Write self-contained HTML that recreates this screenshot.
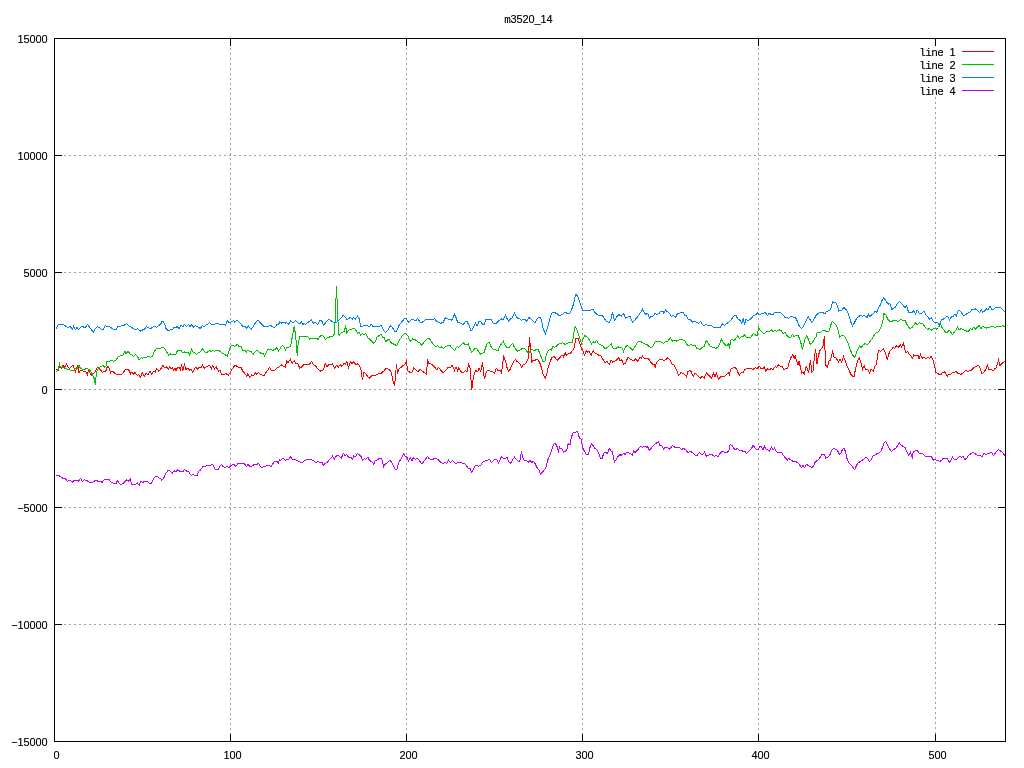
<!DOCTYPE html>
<html><head><meta charset="utf-8"><title>m3520_14</title>
<style>
html,body{margin:0;padding:0;background:#fff;overflow:hidden}
svg{display:block;position:absolute;left:0;top:0;will-change:transform}
text{font-size:11px;fill:#000;text-anchor:middle}
.m{font-family:"Liberation Mono",monospace}
.s{font-family:"Liberation Sans",sans-serif}
</style></head><body>
<svg width="1024" height="768" viewBox="0 0 1024 768">
<rect x="0" y="0" width="1024" height="768" fill="#fff"/>
<g shape-rendering="crispEdges" stroke="#a0a0a0" stroke-width="1" fill="none">
<line x1="64" y1="155.5" x2="998" y2="155.5" stroke-dasharray="2 3"/>
<line x1="64" y1="272.5" x2="998" y2="272.5" stroke-dasharray="2 3"/>
<line x1="64" y1="389.5" x2="998" y2="389.5" stroke-dasharray="2 3"/>
<line x1="64" y1="507.5" x2="998" y2="507.5" stroke-dasharray="2 3"/>
<line x1="64" y1="624.5" x2="998" y2="624.5" stroke-dasharray="2 3"/>
<line x1="230.5" y1="48" x2="230.5" y2="734" stroke-dasharray="2 3"/>
<line x1="406.5" y1="48" x2="406.5" y2="734" stroke-dasharray="2 3"/>
<line x1="582.5" y1="48" x2="582.5" y2="734" stroke-dasharray="2 3"/>
<line x1="758.5" y1="48" x2="758.5" y2="734" stroke-dasharray="2 3"/>
<line x1="935.5" y1="97" x2="935.5" y2="734" stroke-dasharray="2 3"/>
</g>
<g shape-rendering="crispEdges" fill="none" stroke-width="1" stroke-linejoin="miter">
<polyline stroke="#ff0000" points="56.1,369.4 57.4,370.0 58.6,370.6 59.2,366.2 60.5,366.9 61.8,368.1 63.0,365.6 64.9,367.5 66.5,364.4 68.0,366.9 69.2,368.5 71.1,366.9 73.0,365.2 74.2,368.1 75.5,371.9 77.0,367.5 78.0,365.2 79.0,372.5 80.2,370.6 81.8,370.0 83.6,371.5 85.5,371.2 87.4,374.4 88.6,370.6 90.5,373.8 91.8,375.6 93.2,373.8 94.9,372.5 96.1,370.0 97.4,367.5 99.2,368.8 100.5,370.0 102.4,372.5 104.2,371.5 105.8,371.2 107.0,367.5 108.0,366.2 109.5,369.4 110.5,373.1 111.8,371.0 113.6,371.9 115.5,373.8 117.4,375.0 119.2,374.4 121.8,374.4 123.6,371.9 125.5,369.4 128.0,369.1 129.2,370.6 130.5,373.8 132.0,372.2 133.6,374.4 135.1,372.5 137.4,375.6 138.6,374.4 140.5,377.5 142.4,372.5 144.2,376.2 146.1,373.1 148.0,375.0 149.9,371.0 151.8,374.4 153.6,371.2 155.2,372.2 156.8,368.5 158.6,371.2 160.5,369.4 163.0,365.6 164.9,368.1 166.5,366.9 168.2,369.4 169.5,366.9 171.1,368.8 172.4,367.5 173.6,370.0 174.9,368.1 176.0,371.2 177.2,368.1 179.1,366.9 180.4,369.4 181.6,365.6 182.9,370.6 184.5,364.4 186.0,369.4 187.9,368.1 189.8,370.6 191.0,368.8 192.9,372.5 194.8,368.1 196.0,366.9 197.5,369.4 199.1,367.5 201.0,368.1 202.5,365.2 204.5,368.1 206.0,366.9 207.9,366.2 209.5,365.2 211.6,368.8 212.5,365.6 214.5,368.8 216.2,366.9 218.5,371.2 220.0,370.0 221.6,374.4 224.1,374.4 226.0,373.8 228.5,375.0 230.4,372.5 232.2,368.8 234.8,365.6 237.2,366.2 239.1,368.1 241.0,367.5 242.9,371.2 244.5,373.1 246.6,376.2 247.9,373.8 249.8,377.2 251.6,375.0 253.5,375.6 255.4,372.5 256.6,374.4 258.5,372.5 260.4,374.4 262.2,375.0 264.1,375.6 266.0,372.5 267.9,370.0 269.5,367.5 271.0,370.0 272.9,370.0 274.8,370.6 276.6,368.1 278.5,367.5 281.6,364.8 283.5,366.2 285.4,367.5 286.6,361.2 287.9,362.5 290.4,359.4 292.2,363.1 294.1,360.6 296.0,363.8 297.5,363.1 299.8,368.1 301.6,366.9 303.5,364.8 304.0,364.4 306.5,364.4 309.0,365.0 311.5,361.5 313.4,364.8 315.2,365.6 317.1,368.1 319.0,369.8 320.9,371.2 323.4,370.0 325.2,363.8 326.8,366.9 329.0,364.4 330.9,365.0 332.5,363.8 334.6,368.1 336.5,365.2 338.4,366.9 340.2,364.8 341.8,366.2 344.0,363.5 345.2,364.4 346.8,361.5 348.4,367.5 350.5,362.2 352.1,363.8 353.6,361.5 355.9,365.0 357.8,363.8 359.6,365.6 360.9,369.4 362.4,380.0 364.0,372.5 365.2,373.1 367.1,375.6 369.2,378.5 371.5,376.0 374.0,375.6 376.5,375.0 378.4,373.8 380.5,373.8 382.5,371.9 384.0,371.0 385.9,368.5 389.0,369.4 390.9,371.2 392.8,380.0 394.6,386.2 395.5,375.0 396.5,364.4 397.5,373.8 399.0,368.8 400.9,367.5 402.8,365.6 404.6,364.4 406.2,361.5 407.8,370.6 410.2,372.5 412.1,371.9 413.8,367.8 415.9,370.0 418.0,371.5 420.2,369.4 422.1,371.2 424.2,372.5 426.2,374.0 427.8,360.6 429.0,363.5 432.0,364.4 433.9,366.2 435.5,368.1 437.0,370.0 438.5,367.5 440.1,369.4 441.8,371.2 443.5,372.8 445.1,371.2 446.8,369.4 448.2,367.2 450.1,368.1 452.0,365.2 453.5,367.5 454.5,370.6 456.0,366.9 457.6,370.6 458.9,367.5 460.8,371.2 462.0,372.5 463.9,372.2 465.5,370.6 467.0,371.9 468.5,364.4 470.1,368.1 471.0,380.0 471.8,390.2 473.0,380.0 474.5,373.1 475.8,370.6 477.6,371.9 479.2,368.1 480.8,371.5 482.6,362.5 483.5,372.5 484.5,379.0 485.8,373.8 487.6,370.2 489.5,370.6 491.0,372.2 492.6,371.2 494.2,373.5 496.4,368.5 498.0,370.6 500.1,370.0 501.4,372.5 502.6,365.0 503.5,355.6 504.5,358.8 505.8,362.5 507.0,367.5 508.5,371.5 510.1,369.4 512.0,365.0 513.9,361.2 515.5,359.4 517.0,361.5 518.9,362.5 520.1,364.4 521.8,367.2 523.2,364.4 525.1,364.0 526.8,361.9 528.2,358.1 528.9,348.8 529.5,337.2 530.1,344.4 531.0,353.1 531.6,361.9 533.0,360.6 535.1,360.2 537.0,359.0 538.9,361.2 540.1,363.8 541.8,368.8 543.2,374.4 545.1,378.5 546.8,373.8 548.2,367.5 550.1,361.5 552.0,357.5 554.2,356.2 555.8,358.8 557.6,360.2 558.9,358.8 560.0,357.5 561.9,355.0 563.5,356.9 565.2,352.5 566.5,355.6 568.5,353.8 570.6,353.1 572.5,350.6 574.4,347.5 575.6,338.8 578.1,338.5 579.8,343.8 581.5,348.8 583.1,351.2 584.4,355.2 586.2,350.6 587.8,352.5 589.0,351.0 591.2,355.2 593.1,350.6 595.0,353.1 596.9,353.8 598.8,355.2 600.6,355.2 602.5,358.8 605.0,362.5 606.9,361.5 609.4,364.4 611.2,360.0 612.8,362.2 614.4,361.2 616.5,360.0 618.5,357.5 620.0,360.6 621.5,359.4 623.8,364.4 625.6,363.1 628.1,356.9 630.0,359.0 632.2,360.0 634.0,361.2 635.6,358.5 637.5,361.5 640.0,356.9 641.5,358.5 642.5,356.2 645.0,358.8 646.9,358.1 649.0,359.4 650.6,361.9 652.5,364.0 654.4,365.0 655.6,368.1 656.2,362.5 658.8,360.2 661.2,359.4 663.1,360.2 665.6,360.0 667.8,357.5 670.0,360.0 671.9,364.0 674.0,365.0 676.2,369.4 678.8,375.6 681.0,372.5 683.1,373.5 685.0,375.0 686.5,376.9 687.5,372.5 688.0,371.2 690.5,370.6 691.8,373.1 693.2,376.9 694.9,373.1 696.8,374.8 698.6,376.5 700.5,378.1 702.4,376.2 704.2,378.1 706.5,372.5 708.0,374.4 709.5,376.2 711.5,378.1 713.6,373.1 714.9,376.9 716.5,373.5 718.6,379.4 720.5,376.9 722.4,376.2 724.9,376.0 726.8,374.0 728.6,372.5 729.2,375.0 731.1,369.0 733.0,367.8 734.9,367.5 736.8,369.4 739.2,375.6 741.1,372.5 743.0,372.8 744.9,369.4 747.4,368.5 749.2,369.0 751.1,368.5 753.0,369.4 755.5,367.5 757.0,368.5 759.2,366.2 761.1,368.5 763.0,369.0 764.2,366.9 765.8,371.2 767.4,369.0 769.2,370.0 771.1,368.5 773.0,370.0 774.9,366.9 776.8,367.2 778.6,364.8 780.5,366.5 782.4,366.9 784.0,369.4 786.1,368.5 787.8,368.1 789.2,362.5 791.1,357.2 792.8,354.4 794.2,358.1 795.2,356.2 796.8,361.2 798.0,365.0 799.0,361.5 800.5,367.5 801.8,373.1 803.0,372.2 804.2,374.4 806.1,366.2 807.4,368.8 808.6,372.5 810.5,360.0 811.8,372.2 813.0,371.2 814.2,358.8 815.5,349.4 816.0,353.1 817.0,364.4 818.5,355.0 820.4,349.4 822.0,347.8 823.2,345.6 824.5,335.6 825.0,349.8 826.0,365.6 827.5,367.2 828.8,361.2 830.4,360.0 831.6,355.6 832.5,351.9 834.1,356.9 836.0,358.1 837.5,360.0 838.5,361.9 840.0,359.4 841.6,362.2 843.5,356.5 845.4,361.2 847.2,366.2 849.1,370.6 851.0,374.4 852.5,376.2 854.1,376.2 855.8,367.5 857.2,361.9 859.1,357.5 860.8,362.5 862.5,369.4 864.1,365.6 866.0,370.0 867.5,369.4 869.5,373.1 871.0,369.0 873.2,371.2 874.8,366.5 876.6,363.8 877.9,353.1 879.1,350.0 880.4,351.9 882.2,350.0 883.5,348.8 885.4,352.5 887.2,359.4 888.5,355.0 889.8,351.2 891.0,350.0 892.9,347.8 894.8,348.1 896.6,345.6 898.5,346.9 900.4,345.0 901.6,346.9 903.5,343.1 905.0,350.0 906.0,352.5 907.5,351.5 909.1,353.8 910.8,355.6 912.2,358.8 913.8,355.0 916.0,355.2 917.9,355.0 919.1,358.8 920.4,354.4 922.2,358.1 924.1,357.5 926.0,358.5 927.9,357.5 929.5,358.5 931.2,356.2 932.9,360.0 934.5,365.6 936.0,372.5 937.9,373.5 939.8,374.8 941.6,374.0 942.9,371.9 944.0,372.5 944.8,371.9 947.2,376.2 949.1,374.0 950.4,374.8 952.2,372.5 954.1,372.2 956.0,371.5 957.9,373.5 961.0,374.4 963.5,372.5 966.0,369.8 967.9,371.9 969.8,370.0 971.6,370.0 973.5,367.8 976.0,366.5 978.5,365.2 980.0,368.1 982.2,374.0 984.1,371.9 986.0,369.0 987.5,365.0 989.1,370.0 991.0,368.8 993.2,371.0 994.8,368.8 996.2,368.1 997.5,363.8 998.5,360.0 1000.0,365.6 1001.6,363.8 1003.5,362.2 1004.8,361.2"/>
<polyline stroke="#00c000" points="56.1,371.5 58.0,370.0 59.0,366.2 59.5,362.2 60.1,366.2 61.1,367.2 63.6,367.9 65.5,368.5 68.0,369.4 71.1,370.2 73.6,370.2 75.5,368.5 77.4,368.1 79.2,365.2 80.2,368.1 81.8,368.8 83.6,369.8 85.5,369.0 87.0,368.5 89.2,369.4 91.1,371.9 92.8,375.0 94.5,380.0 95.5,384.8 96.2,373.8 97.4,370.0 98.6,367.5 100.5,366.9 103.0,365.6 104.9,367.5 106.1,365.6 106.8,361.2 108.0,361.0 109.9,361.2 111.8,360.4 113.6,361.2 115.5,360.6 117.4,358.1 118.6,356.5 120.5,355.6 122.4,355.6 123.6,353.8 124.9,351.2 126.1,353.8 128.0,351.2 129.9,353.8 131.8,355.0 133.6,356.2 135.5,354.4 137.4,356.2 139.2,360.0 141.1,357.8 143.0,358.1 144.9,357.5 146.8,357.2 148.6,356.2 150.5,357.2 152.4,356.2 154.2,351.9 156.1,348.8 158.0,348.1 159.9,348.8 161.8,347.2 163.6,347.2 165.5,349.8 167.4,353.1 168.6,355.0 170.5,354.0 173.0,354.4 176.0,354.4 177.2,351.0 179.1,350.6 181.0,350.6 182.9,353.1 184.8,351.9 186.6,352.5 188.5,352.5 189.8,355.0 191.6,349.4 192.9,351.9 194.8,352.5 196.6,354.4 198.5,352.5 200.4,351.9 202.2,348.5 204.1,351.2 206.0,352.5 207.9,351.9 209.5,350.6 211.0,351.2 212.9,350.6 214.8,351.2 217.9,350.2 219.8,351.2 221.6,352.5 223.5,353.8 225.4,355.0 227.2,356.2 229.1,350.6 231.0,346.0 232.9,345.6 234.8,346.2 237.2,344.4 239.1,346.5 241.0,346.5 242.9,350.6 244.8,350.0 246.2,352.5 247.9,350.0 249.8,351.9 251.0,351.5 253.2,354.4 255.4,351.2 257.2,350.2 259.1,351.9 261.0,353.5 262.9,353.1 264.5,356.2 266.0,353.1 267.9,349.4 269.8,349.4 271.6,350.0 273.5,350.0 275.4,349.4 276.6,347.5 278.5,351.2 280.4,348.1 282.2,345.6 283.5,346.2 285.4,350.0 287.2,347.2 290.4,346.9 292.2,337.5 294.1,326.2 295.4,333.8 296.4,343.8 297.2,355.6 298.2,342.5 299.8,336.9 301.6,336.2 304.0,336.2 305.9,336.9 307.8,336.5 309.6,339.0 311.5,338.5 314.0,338.5 316.5,338.5 318.4,339.4 320.2,336.2 322.1,335.2 324.0,337.2 325.5,339.4 327.1,338.1 329.0,337.2 330.9,336.5 332.8,336.9 333.5,335.2 334.5,333.8 336.5,286.5 338.5,333.8 339.2,335.2 340.9,333.1 342.8,332.2 344.2,331.2 345.5,325.6 346.8,333.1 348.4,330.6 350.2,329.4 352.8,328.8 354.6,328.5 356.2,330.6 357.8,333.1 359.0,332.2 360.5,335.0 362.5,333.8 364.0,334.4 365.9,333.5 367.8,338.1 369.6,339.0 371.5,341.2 373.8,343.5 375.5,341.0 377.1,336.9 379.0,335.6 380.9,334.4 382.5,337.2 384.0,337.5 385.9,341.9 387.8,339.8 389.2,339.4 390.9,342.5 392.8,343.8 394.6,344.4 396.5,345.6 398.4,342.5 400.2,338.8 402.1,336.2 404.0,333.8 405.9,333.8 407.8,335.6 409.6,340.2 410.9,341.2 412.5,339.0 414.6,339.4 416.5,340.6 418.4,342.5 420.0,343.1 421.5,345.2 423.4,343.1 425.2,340.6 427.8,338.5 429.6,338.8 432.0,342.5 433.9,345.0 435.8,346.9 437.6,345.6 439.5,347.5 441.4,346.9 443.5,348.5 445.8,346.5 448.2,345.6 450.1,345.6 452.0,348.1 454.5,350.6 457.0,346.9 458.9,347.2 461.0,345.0 463.2,342.5 465.1,344.4 466.8,345.0 468.2,343.5 469.5,347.5 471.8,352.5 473.9,349.4 475.8,348.1 477.2,349.4 478.9,351.9 480.8,354.4 482.6,353.1 484.2,352.2 485.8,346.9 487.6,343.1 489.2,342.5 490.8,346.2 492.6,348.8 494.5,349.4 496.4,350.0 498.2,350.2 500.1,345.6 502.0,343.1 503.5,341.2 505.1,345.6 507.0,347.5 508.9,348.1 510.8,345.0 512.6,343.5 514.2,346.9 516.0,349.4 517.6,351.2 519.5,350.2 521.4,349.0 523.2,348.5 525.1,348.8 526.8,351.2 528.2,352.5 529.8,351.9 531.4,349.8 533.2,350.0 534.8,350.6 536.4,349.4 538.2,349.8 539.8,353.1 541.4,357.5 543.2,361.9 544.8,361.9 546.4,353.8 548.2,350.6 550.1,349.4 551.4,350.0 553.0,346.2 554.5,347.5 556.4,346.0 558.2,344.4 560.0,343.5 562.5,342.8 565.0,344.4 567.5,343.1 570.0,342.5 572.5,342.2 574.0,332.5 575.2,326.2 576.9,330.0 578.8,335.0 580.2,340.0 581.5,343.8 583.1,338.8 584.8,335.6 586.5,336.5 588.1,338.1 590.0,341.2 591.5,344.0 593.1,341.9 595.0,342.5 596.5,340.6 598.8,343.8 601.2,345.0 603.1,346.2 605.2,349.0 607.2,347.5 609.4,345.6 611.2,343.8 613.1,348.1 615.6,348.5 618.1,346.9 620.0,347.5 621.9,347.5 623.5,351.5 625.0,348.1 626.9,345.2 628.8,346.9 630.6,348.1 632.5,350.2 634.4,347.5 636.5,343.8 638.8,341.5 641.0,341.5 643.1,343.1 645.0,344.0 646.9,344.4 648.8,346.2 651.2,347.5 653.1,346.2 655.2,341.9 657.5,341.2 660.0,341.5 661.9,342.2 663.5,343.5 665.6,341.5 668.1,341.0 670.2,337.8 672.5,341.2 674.0,339.8 676.2,341.2 678.8,340.0 681.2,339.4 683.1,340.2 685.0,341.0 686.9,344.4 688.0,346.2 689.9,345.0 691.8,344.8 693.2,346.0 694.9,345.2 696.8,348.1 698.6,348.8 700.2,349.4 702.0,347.2 704.2,346.9 705.5,342.5 706.8,340.2 708.2,343.8 710.2,346.0 712.4,347.2 714.2,347.5 716.1,348.5 718.0,346.9 719.9,343.1 721.5,339.4 723.0,341.9 724.9,344.8 726.8,345.6 728.2,344.0 729.5,347.5 730.8,340.0 732.8,339.8 734.2,340.6 736.1,338.1 737.8,335.6 739.2,338.5 741.1,336.9 743.0,336.5 744.9,334.4 746.1,337.2 748.0,337.5 750.5,337.5 752.4,335.0 753.6,333.5 755.5,335.0 757.4,335.0 758.6,327.5 759.9,329.8 761.8,331.9 763.6,333.8 765.5,332.5 767.4,331.2 769.2,331.9 771.1,329.8 773.0,331.5 774.9,330.6 776.8,331.2 779.0,329.8 781.1,330.6 783.0,333.8 784.9,332.5 786.8,335.2 788.6,337.2 790.5,337.5 792.4,334.4 794.2,336.9 796.1,335.2 798.0,335.6 799.9,339.4 801.1,343.8 802.4,349.4 803.6,345.0 804.9,339.4 806.5,335.6 808.2,338.8 810.2,344.4 811.8,343.1 813.6,340.6 814.9,338.1 816.0,336.9 817.2,332.5 819.1,333.1 821.0,331.9 823.5,330.2 826.0,331.2 829.1,331.0 830.8,325.0 832.2,321.5 834.1,323.1 836.0,325.0 837.5,327.5 838.5,332.5 839.8,337.2 841.6,335.2 843.5,335.6 845.4,337.5 847.2,341.2 848.8,345.0 850.4,350.0 852.2,354.4 854.8,357.5 856.6,352.5 858.5,347.5 859.8,345.6 861.0,348.1 862.9,345.0 865.0,343.8 867.9,344.4 869.8,341.9 871.6,339.4 873.5,336.2 875.8,333.1 877.9,331.9 879.8,330.0 881.2,326.2 882.9,321.2 883.8,313.8 885.8,314.4 887.5,318.8 889.8,321.2 892.2,321.2 894.1,320.0 896.6,320.6 898.2,321.9 900.0,320.0 901.6,319.4 903.2,321.0 905.0,320.2 906.6,323.8 908.5,326.9 910.0,328.5 912.0,327.5 913.5,325.6 915.4,322.8 917.0,325.0 919.1,322.8 921.0,323.5 922.9,323.5 924.5,326.5 926.2,328.5 927.9,329.4 929.5,328.5 931.6,330.2 933.5,328.8 935.4,328.1 936.6,329.0 938.5,327.5 940.4,324.0 942.0,327.5 944.0,330.2 945.4,332.2 947.5,332.2 949.1,330.2 951.0,332.5 952.5,334.4 954.1,332.5 956.0,329.8 957.5,326.9 959.1,330.0 961.0,328.5 962.9,329.8 964.8,330.2 966.6,331.0 968.5,331.0 970.4,328.8 972.2,329.4 974.1,326.9 975.4,329.0 977.2,327.5 979.1,325.6 981.0,328.8 982.5,326.2 984.8,327.2 986.6,328.1 988.5,327.2 991.0,326.9 992.9,326.5 994.8,327.5 996.6,326.9 999.1,326.0 1001.0,326.2 1002.9,325.6 1004.8,326.9"/>
<polyline stroke="#0080ff" points="56.1,328.5 58.0,324.8 59.9,325.0 61.1,324.1 63.0,324.1 64.9,325.6 66.8,326.9 68.6,327.2 70.2,326.2 72.4,329.4 73.6,326.5 75.5,329.4 77.0,327.5 78.6,329.4 80.8,327.2 82.4,326.2 84.2,327.5 85.5,327.2 87.4,324.4 89.2,326.9 91.1,329.4 93.2,332.2 95.2,328.5 97.4,326.9 99.2,327.5 101.1,329.0 103.0,329.4 105.2,325.6 106.8,326.2 109.2,326.2 111.1,327.8 113.2,329.0 116.1,329.4 117.8,326.5 119.9,326.2 122.4,325.6 124.5,325.0 126.5,323.4 128.6,325.9 130.8,326.6 133.0,328.5 134.9,329.6 138.0,328.8 140.2,331.2 142.4,330.0 144.5,329.4 146.5,326.5 148.6,327.8 150.8,328.5 152.8,327.2 154.9,326.5 156.8,327.2 159.0,325.4 160.5,324.4 161.8,321.9 163.6,321.5 164.9,325.0 166.1,328.8 167.8,330.4 169.9,330.0 172.4,329.4 174.2,327.5 176.0,328.1 177.2,326.2 179.1,329.0 181.0,325.0 182.9,326.5 184.5,324.4 186.6,326.5 188.5,324.4 190.0,326.9 191.6,324.8 193.5,327.2 195.4,325.6 197.2,326.5 200.4,328.5 202.2,325.6 203.8,326.9 206.0,324.8 207.9,324.4 209.5,322.5 212.2,325.0 214.8,324.0 217.9,323.1 219.8,324.4 222.2,325.0 224.1,324.4 225.4,325.0 227.5,320.6 229.1,322.5 231.0,321.9 233.5,320.6 234.8,322.5 237.2,320.0 239.1,321.9 241.0,323.8 242.9,326.9 244.8,326.0 246.6,328.1 248.5,326.2 251.2,329.4 253.5,326.2 256.0,321.9 258.5,320.2 260.4,323.1 262.2,324.4 264.1,326.9 266.0,326.0 268.5,326.2 271.0,325.6 273.5,327.5 275.4,326.9 277.0,324.4 278.5,324.4 279.8,321.9 281.6,323.1 283.5,322.5 285.4,323.1 286.6,322.5 288.5,324.4 290.8,320.6 292.9,323.1 295.4,320.6 297.9,323.1 299.8,323.8 301.2,321.9 302.9,324.4 304.0,323.8 305.9,324.4 307.8,322.5 309.6,321.2 311.5,320.0 313.4,323.1 315.2,322.5 317.8,324.4 319.6,320.6 321.5,320.2 323.4,325.0 325.2,323.1 327.1,320.6 329.0,319.4 330.9,320.6 333.4,322.5 336.5,322.5 338.4,320.6 340.9,318.1 343.4,315.2 345.2,316.9 346.8,319.4 348.4,318.8 350.2,317.5 352.1,319.4 353.4,317.5 355.2,319.4 357.5,316.2 359.0,318.5 360.9,326.2 362.8,326.2 365.2,325.0 367.1,325.6 369.0,326.9 371.2,324.4 372.8,326.2 375.2,326.5 377.1,326.9 379.0,326.5 381.5,325.6 383.4,330.0 385.5,332.5 387.8,330.0 390.5,325.6 392.8,328.1 395.0,331.5 396.5,331.2 399.0,325.6 400.9,323.1 402.8,320.6 404.6,318.5 406.5,319.0 408.4,322.2 410.2,320.6 412.1,319.4 414.0,320.0 415.9,320.6 417.5,318.5 419.0,320.6 420.9,322.8 422.8,321.9 425.9,319.4 428.4,319.4 430.2,319.8 432.0,320.0 434.5,318.5 436.4,321.2 438.2,321.9 440.5,323.5 443.2,322.2 445.5,317.5 447.6,319.0 450.1,319.4 452.0,320.2 454.5,314.4 456.0,317.5 457.6,322.2 459.5,322.8 461.4,323.8 463.2,325.0 465.1,321.5 467.0,321.5 468.9,325.0 470.8,330.2 472.2,330.0 473.9,326.0 475.5,323.1 477.0,326.2 478.9,321.5 480.8,321.9 482.6,324.4 484.2,324.4 485.8,319.8 487.6,319.4 491.4,319.4 493.2,323.1 495.8,323.5 497.6,321.9 499.5,320.2 501.4,319.0 503.2,319.4 505.5,315.2 507.0,318.5 508.5,321.2 510.1,319.4 512.0,317.8 514.5,313.1 516.0,316.0 517.6,318.5 519.5,318.8 521.4,320.2 523.2,319.4 524.8,319.4 526.8,321.2 528.9,317.5 530.8,318.8 533.0,321.2 534.8,322.8 536.4,320.0 538.2,317.8 540.1,317.5 541.4,320.0 543.2,328.8 545.5,333.5 547.0,329.4 548.9,322.5 550.5,315.6 552.0,313.1 553.9,312.2 555.8,313.1 557.6,314.0 558.9,316.0 560.0,315.6 562.5,314.4 565.0,312.2 567.5,313.5 570.0,313.1 571.9,308.8 573.8,303.1 575.6,294.4 577.5,295.6 579.4,301.2 581.2,306.2 582.5,310.6 584.4,310.2 587.5,310.2 590.6,310.2 593.1,309.4 595.0,312.5 596.9,314.4 599.4,315.6 601.9,315.6 603.8,317.5 605.6,320.6 607.5,321.9 609.4,322.5 611.0,318.8 612.5,312.2 614.4,320.6 616.2,317.5 618.8,314.4 621.2,316.2 623.5,313.5 625.6,318.1 628.1,316.9 630.0,316.2 632.5,322.2 635.0,320.0 636.9,317.5 638.8,315.0 640.6,312.5 642.5,309.4 644.4,313.1 646.2,314.4 647.8,313.1 649.4,318.1 651.2,316.5 653.1,316.0 655.0,313.5 656.9,314.4 658.8,313.8 660.6,311.5 663.1,311.5 663.8,313.1 665.6,310.2 667.5,311.9 669.4,313.1 671.2,316.2 673.1,315.6 675.6,317.2 677.5,313.5 680.0,313.1 683.1,312.5 685.0,316.2 686.2,315.6 688.0,319.0 690.5,320.0 692.8,322.2 694.9,321.2 696.8,322.8 698.6,323.1 700.5,321.5 702.0,324.0 704.0,325.6 706.1,324.4 708.0,325.6 710.5,325.2 712.4,326.2 714.0,328.1 715.5,327.2 718.0,327.2 720.2,327.2 722.4,324.0 724.5,325.2 726.8,323.5 728.6,322.2 731.1,319.8 733.0,317.2 734.5,315.2 736.1,315.6 737.8,319.0 739.2,319.8 741.1,321.9 742.0,323.5 743.2,318.1 744.5,324.4 746.1,318.8 748.0,321.2 749.9,319.4 751.8,317.8 753.6,315.6 756.1,314.4 757.8,312.5 759.2,315.0 761.8,313.5 763.6,313.1 765.5,312.8 767.4,315.6 769.2,313.1 771.1,314.4 773.0,315.0 774.5,312.2 776.8,312.5 780.5,312.5 782.4,314.4 784.9,317.2 786.8,317.8 788.6,318.1 790.5,316.5 793.0,316.9 795.5,317.5 797.4,321.2 799.2,326.0 801.8,328.5 803.6,326.2 806.1,320.6 808.2,316.5 809.9,319.4 811.8,322.2 813.6,320.0 815.5,316.5 816.0,315.6 818.5,313.1 821.0,312.5 822.9,312.5 824.8,314.0 826.6,311.5 828.5,310.6 830.8,309.4 832.5,301.5 834.1,302.5 836.0,303.1 837.5,306.2 838.8,311.2 840.4,310.2 842.0,310.0 843.8,307.2 845.4,308.8 847.2,311.2 849.1,316.2 851.0,322.5 852.5,326.2 854.1,323.5 856.0,319.4 857.9,316.9 860.4,315.6 862.5,316.2 864.8,315.6 867.0,317.5 868.5,314.4 869.8,316.9 871.6,315.0 873.5,313.5 875.0,311.5 876.6,312.5 878.2,308.8 880.0,305.6 881.6,301.0 883.5,298.1 885.4,300.0 887.0,302.5 888.2,304.4 889.8,303.1 891.6,309.4 893.5,308.5 895.0,307.5 897.0,304.0 899.5,301.5 901.6,303.5 903.5,305.6 905.0,308.1 906.6,305.6 908.5,312.2 910.4,312.5 912.0,313.1 913.8,310.2 915.4,314.0 917.2,310.0 919.1,313.1 921.6,313.1 924.1,311.5 926.0,315.0 927.9,316.9 929.8,319.4 931.2,317.8 933.5,321.9 935.8,322.8 937.2,322.2 939.1,324.8 941.6,319.8 942.9,319.4 944.0,318.8 944.8,318.1 947.5,316.2 949.5,320.0 951.0,317.2 952.9,316.5 954.8,314.4 956.2,316.2 957.9,311.2 959.5,310.2 961.2,312.5 963.5,315.6 965.4,314.8 967.9,313.1 970.0,312.2 972.2,309.0 974.1,309.8 975.8,308.8 977.9,311.0 979.8,312.5 981.2,309.8 982.9,312.2 985.0,310.6 986.6,308.8 988.5,309.4 989.8,306.2 991.6,309.4 993.5,309.4 996.0,307.5 998.5,307.2 1000.4,307.5 1002.2,309.4 1004.8,311.5"/>
<polyline stroke="#c000ff" points="56.1,475.2 58.6,475.6 61.1,476.9 63.0,478.5 65.5,478.8 67.4,481.5 69.9,480.2 72.4,482.2 73.6,480.6 76.1,480.6 78.6,481.2 80.5,478.5 82.4,481.5 84.2,479.8 86.8,480.6 89.2,482.2 93.0,482.2 95.5,480.2 98.0,481.2 100.5,481.2 102.0,482.5 104.0,479.8 106.8,479.4 109.2,479.8 110.5,481.9 113.0,483.1 116.1,483.5 117.4,480.6 119.2,483.1 121.1,484.8 123.6,483.1 126.5,479.8 128.6,481.2 130.2,478.5 131.5,484.0 133.6,484.4 135.5,484.4 137.4,483.1 139.2,485.2 140.8,481.5 143.0,482.2 144.9,481.5 147.4,481.5 149.2,483.5 151.1,483.5 153.0,480.0 154.9,476.9 156.8,476.2 158.6,477.8 160.5,478.5 161.8,480.2 163.6,478.5 165.5,473.8 167.4,471.2 168.6,470.2 170.5,471.5 172.4,473.1 174.2,470.6 176.0,472.2 177.5,469.8 179.8,471.2 182.9,471.5 184.5,469.4 186.6,471.2 188.5,471.5 190.0,473.8 191.6,475.6 192.9,474.4 194.8,475.6 197.2,475.6 198.5,471.5 200.4,470.0 202.9,466.5 205.4,466.2 207.2,465.2 210.4,465.2 212.5,464.4 214.1,467.5 215.8,469.8 218.5,469.4 219.8,466.5 221.2,464.4 222.9,466.2 224.8,467.8 227.0,466.5 228.8,467.5 231.0,465.6 233.8,464.0 235.8,466.2 238.5,463.1 241.0,464.0 244.1,463.1 246.6,466.5 248.2,464.4 250.0,466.5 252.0,466.2 254.5,464.4 256.6,464.4 258.5,463.5 260.0,466.0 262.0,467.8 264.1,466.5 267.2,465.6 269.5,465.6 271.2,466.5 272.9,463.8 274.8,461.2 277.0,461.5 278.5,463.1 279.5,459.8 281.0,460.2 283.2,458.1 285.4,460.6 287.2,459.4 289.1,459.0 290.8,456.5 292.2,459.4 295.4,459.8 297.9,461.0 301.0,462.5 302.9,462.2 304.0,461.2 306.5,459.8 309.0,459.4 311.5,459.8 314.0,461.2 315.9,462.8 317.8,461.2 319.6,462.5 322.1,462.5 323.4,465.2 325.5,463.1 327.5,462.2 329.6,459.4 332.5,456.2 334.2,459.4 336.2,456.2 338.0,455.2 339.6,456.5 341.2,458.1 343.4,453.5 345.0,455.6 346.5,454.4 348.4,457.2 350.9,457.5 352.5,459.4 353.8,455.6 355.2,456.9 357.5,453.5 359.6,455.2 360.9,456.2 362.5,460.2 364.6,458.5 365.9,459.4 367.8,457.2 369.2,459.8 371.2,461.5 372.5,462.5 373.8,464.4 375.5,460.2 377.1,460.0 379.0,458.5 380.9,458.5 382.5,460.6 383.4,467.2 385.0,464.4 387.1,463.1 389.6,460.2 391.5,461.9 393.4,466.0 395.2,469.4 396.8,469.4 398.4,463.1 400.0,460.6 401.8,457.5 403.8,453.5 405.2,456.2 406.8,456.9 408.4,461.2 410.2,457.2 412.1,461.0 413.4,457.5 415.2,459.4 417.1,458.1 419.0,459.8 420.9,463.1 422.5,463.5 424.2,460.6 426.2,458.5 427.5,456.5 429.0,458.5 432.0,459.8 434.5,458.5 436.4,458.5 438.2,459.8 440.5,461.9 442.6,463.8 444.5,462.5 446.8,463.5 448.5,460.2 450.5,462.5 452.6,460.2 454.5,462.5 456.0,463.8 458.2,462.5 460.8,462.5 462.6,463.5 464.5,463.5 466.4,465.6 468.2,468.5 470.1,468.8 471.8,472.5 473.2,469.4 475.1,465.6 477.0,465.2 478.5,466.5 480.8,465.2 482.6,462.2 484.5,461.2 486.4,460.6 488.2,459.8 489.8,459.8 491.4,462.8 493.2,460.6 495.1,459.4 496.8,459.8 498.5,462.8 500.1,460.0 501.4,456.5 503.2,458.1 505.1,458.5 507.0,457.2 508.5,461.2 510.5,463.5 512.6,459.8 514.5,457.2 516.4,459.4 518.2,461.5 519.8,461.2 521.4,451.2 522.6,457.5 524.2,460.2 526.4,460.6 528.5,462.5 529.8,460.2 531.8,462.5 533.2,461.2 534.5,462.5 536.0,465.6 537.6,468.8 538.9,469.4 540.5,474.4 542.6,471.9 544.2,469.8 545.8,468.1 547.2,461.9 548.9,456.9 550.8,453.1 552.2,448.5 553.5,444.4 554.8,443.1 556.4,444.8 557.6,448.1 558.5,451.2 559.5,447.2 560.0,448.1 561.9,448.5 563.5,452.2 565.6,451.2 566.9,449.4 568.1,443.8 570.0,445.0 571.2,438.1 572.8,433.1 575.0,432.2 577.2,431.5 578.5,434.4 579.4,438.1 581.2,439.0 582.5,447.5 584.4,451.2 586.2,454.4 588.5,454.4 590.0,447.5 591.5,443.5 593.1,445.6 595.0,448.8 596.9,449.4 598.8,453.8 600.6,458.1 602.2,458.1 603.8,453.1 605.6,452.2 607.5,453.8 609.4,448.5 611.2,451.0 612.5,451.9 614.4,462.2 616.2,459.4 618.1,456.5 619.8,454.8 621.2,455.2 623.8,453.5 625.2,454.4 626.9,451.9 628.5,452.8 630.6,453.8 632.2,455.2 633.8,450.6 635.0,452.5 636.9,450.6 638.8,448.5 640.6,446.5 642.5,447.2 644.4,446.2 646.0,447.2 647.5,446.5 649.4,450.2 651.2,448.1 653.1,446.0 655.2,443.8 656.9,442.8 658.5,441.5 660.0,445.6 661.9,446.0 663.5,449.0 665.6,447.2 667.5,447.5 669.4,449.4 671.0,447.5 672.5,445.6 674.8,447.2 677.5,447.2 679.4,447.5 681.5,449.4 683.8,448.5 685.6,449.8 688.0,452.5 689.9,451.2 691.8,452.2 693.6,453.8 695.5,455.6 697.4,455.2 699.2,452.5 701.1,454.4 702.8,454.0 704.5,452.2 706.5,456.5 708.6,455.2 710.8,454.0 712.8,455.2 714.5,456.2 716.1,455.2 718.0,456.5 719.9,453.8 721.8,451.5 723.2,451.2 724.9,452.5 727.4,452.2 729.0,450.2 730.2,444.4 732.4,445.6 733.6,448.1 735.5,449.8 737.4,448.5 739.2,450.2 741.5,450.2 743.0,451.5 744.9,451.5 746.5,453.5 748.6,451.2 750.5,449.4 752.0,447.5 753.2,445.2 754.9,448.1 756.5,449.8 758.0,449.4 759.9,446.2 761.5,446.9 762.8,449.8 764.5,446.5 766.1,449.4 768.0,450.0 769.5,451.2 771.5,447.2 773.0,450.2 774.5,448.1 776.1,451.0 777.8,452.5 781.5,452.5 783.0,454.8 784.9,457.2 787.4,460.2 788.6,458.5 790.8,459.8 792.8,461.2 795.5,461.5 797.8,462.8 799.9,465.2 801.5,467.5 803.0,465.6 804.5,467.5 806.5,464.4 808.2,465.6 810.2,466.5 811.8,468.1 813.6,465.6 814.9,462.8 816.0,461.5 817.9,460.0 819.8,457.8 822.0,454.4 824.1,454.4 825.8,458.1 827.9,457.2 829.8,455.0 831.6,450.6 833.5,448.5 835.4,449.0 837.2,450.0 839.5,454.4 841.0,452.8 842.5,449.4 843.8,448.1 845.4,451.2 847.2,459.4 849.1,463.5 851.0,465.0 852.9,467.2 854.8,469.8 856.6,465.0 858.5,462.5 860.4,461.5 862.2,460.2 864.1,459.0 866.0,457.2 867.5,458.1 869.5,461.5 871.0,459.8 872.9,456.0 874.8,455.2 877.0,453.5 878.8,453.1 880.8,451.5 882.2,448.1 884.1,442.8 885.8,441.2 887.5,445.0 889.5,448.5 891.2,451.5 893.2,449.8 896.0,448.1 897.9,445.0 899.5,443.1 901.6,445.6 903.5,446.5 905.0,447.5 906.6,451.2 908.5,455.2 910.4,452.5 912.2,457.5 913.2,451.9 915.4,451.0 917.2,450.2 919.1,453.1 921.0,453.1 922.9,453.8 925.4,456.5 928.5,456.5 931.6,456.5 933.2,460.2 934.8,459.4 936.6,460.2 938.5,460.6 940.0,461.5 941.6,460.2 942.9,458.8 944.0,458.1 945.4,459.0 947.2,458.1 949.5,462.5 951.0,460.0 952.5,457.2 954.5,459.4 956.6,459.4 958.2,458.1 959.8,456.5 961.2,457.2 963.2,456.5 964.5,459.4 966.6,458.5 968.5,455.6 970.4,454.0 972.9,452.2 975.0,453.5 977.2,455.2 979.8,455.6 982.0,456.5 984.1,453.5 985.8,454.4 987.9,453.5 989.8,453.1 991.6,452.5 993.5,455.6 995.4,453.1 997.0,451.0 998.5,449.4 1000.4,451.0 1002.0,451.9 1003.5,454.0 1004.8,455.6"/>
</g>
<g shape-rendering="crispEdges" stroke="#000" stroke-width="1" fill="none">
<rect x="54.5" y="38.5" width="951" height="703"/>
<line x1="55" y1="155.5" x2="62" y2="155.5"/><line x1="998" y1="155.5" x2="1005" y2="155.5"/>
<line x1="55" y1="272.5" x2="62" y2="272.5"/><line x1="998" y1="272.5" x2="1005" y2="272.5"/>
<line x1="55" y1="389.5" x2="62" y2="389.5"/><line x1="998" y1="389.5" x2="1005" y2="389.5"/>
<line x1="55" y1="507.5" x2="62" y2="507.5"/><line x1="998" y1="507.5" x2="1005" y2="507.5"/>
<line x1="55" y1="624.5" x2="62" y2="624.5"/><line x1="998" y1="624.5" x2="1005" y2="624.5"/>
<line x1="230.5" y1="39" x2="230.5" y2="46"/><line x1="230.5" y1="734" x2="230.5" y2="741"/>
<line x1="406.5" y1="39" x2="406.5" y2="46"/><line x1="406.5" y1="734" x2="406.5" y2="741"/>
<line x1="582.5" y1="39" x2="582.5" y2="46"/><line x1="582.5" y1="734" x2="582.5" y2="741"/>
<line x1="758.5" y1="39" x2="758.5" y2="46"/><line x1="758.5" y1="734" x2="758.5" y2="741"/>
<line x1="935.5" y1="39" x2="935.5" y2="46"/><line x1="935.5" y1="734" x2="935.5" y2="741"/>
</g>
<g shape-rendering="crispEdges" stroke-width="1">
<line x1="962" y1="51.5" x2="994" y2="51.5" stroke="#ff0000"/>
<line x1="962" y1="64.5" x2="994" y2="64.5" stroke="#00c000"/>
<line x1="962" y1="77.5" x2="994" y2="77.5" stroke="#0080ff"/>
<line x1="962" y1="90.5" x2="994" y2="90.5" stroke="#c000ff"/>
</g>
<g id="t">
<text class="m" x="507.5" y="23">m</text><text class="s" x="513.5" y="23">3</text><text class="s" x="519.5" y="23">5</text><text class="s" x="525.5" y="23">2</text><text class="s" x="531.5" y="23">0</text><text class="s" x="537.5" y="23">_</text><text class="s" x="543.5" y="23">1</text><text class="s" x="549.5" y="23">4</text>
<text class="s" x="20.5" y="43">1</text><text class="s" x="26.5" y="43">5</text><text class="s" x="32.5" y="43">0</text><text class="s" x="38.5" y="43">0</text><text class="s" x="44.5" y="43">0</text>
<text class="s" x="20.5" y="160">1</text><text class="s" x="26.5" y="160">0</text><text class="s" x="32.5" y="160">0</text><text class="s" x="38.5" y="160">0</text><text class="s" x="44.5" y="160">0</text>
<text class="s" x="26.5" y="277">5</text><text class="s" x="32.5" y="277">0</text><text class="s" x="38.5" y="277">0</text><text class="s" x="44.5" y="277">0</text>
<text class="s" x="44.5" y="394">0</text>
<text class="s" x="20.5" y="512">−</text><text class="s" x="26.5" y="512">5</text><text class="s" x="32.5" y="512">0</text><text class="s" x="38.5" y="512">0</text><text class="s" x="44.5" y="512">0</text>
<text class="s" x="14.5" y="629">−</text><text class="s" x="20.5" y="629">1</text><text class="s" x="26.5" y="629">0</text><text class="s" x="32.5" y="629">0</text><text class="s" x="38.5" y="629">0</text><text class="s" x="44.5" y="629">0</text>
<text class="s" x="14.5" y="746">−</text><text class="s" x="20.5" y="746">1</text><text class="s" x="26.5" y="746">5</text><text class="s" x="32.5" y="746">0</text><text class="s" x="38.5" y="746">0</text><text class="s" x="44.5" y="746">0</text>
<text class="s" x="56.5" y="759">0</text>
<text class="s" x="226.5" y="759">1</text><text class="s" x="232.5" y="759">0</text><text class="s" x="238.5" y="759">0</text>
<text class="s" x="402.5" y="759">2</text><text class="s" x="408.5" y="759">0</text><text class="s" x="414.5" y="759">0</text>
<text class="s" x="578.5" y="759">3</text><text class="s" x="584.5" y="759">0</text><text class="s" x="590.5" y="759">0</text>
<text class="s" x="754.5" y="759">4</text><text class="s" x="760.5" y="759">0</text><text class="s" x="766.5" y="759">0</text>
<text class="s" x="931.5" y="759">5</text><text class="s" x="937.5" y="759">0</text><text class="s" x="943.5" y="759">0</text>
<text class="m" x="922.5" y="56">l</text><text class="m" x="928.5" y="56">i</text><text class="m" x="934.5" y="56">n</text><text class="m" x="940.5" y="56">e</text><text class="s" x="952.5" y="56">1</text>
<text class="m" x="922.5" y="69">l</text><text class="m" x="928.5" y="69">i</text><text class="m" x="934.5" y="69">n</text><text class="m" x="940.5" y="69">e</text><text class="s" x="952.5" y="69">2</text>
<text class="m" x="922.5" y="82">l</text><text class="m" x="928.5" y="82">i</text><text class="m" x="934.5" y="82">n</text><text class="m" x="940.5" y="82">e</text><text class="s" x="952.5" y="82">3</text>
<text class="m" x="922.5" y="95">l</text><text class="m" x="928.5" y="95">i</text><text class="m" x="934.5" y="95">n</text><text class="m" x="940.5" y="95">e</text><text class="s" x="952.5" y="95">4</text>
</g>
<use href="#t" opacity=".4"/>
</svg>
</body></html>
